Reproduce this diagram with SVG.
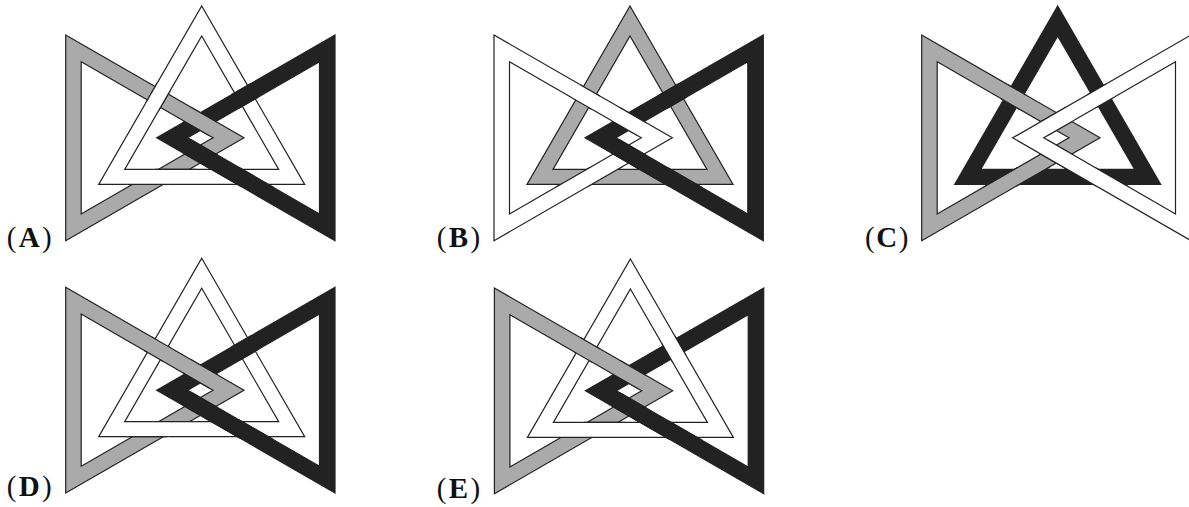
<svg xmlns="http://www.w3.org/2000/svg" xmlns:xlink="http://www.w3.org/1999/xlink" width="1189" height="507" viewBox="0 0 1189 507">
<style>
.b{stroke:#222;stroke-width:1.2;stroke-linejoin:miter;fill-rule:evenodd}
.w{fill:#ffffff}.g{fill:#aaaaaa}.k{fill:#222222}
.lbl{font-family:"Liberation Serif","DejaVu Serif",serif;font-size:29px;fill:#111}
</style>
<defs>
<path id="L" d="M65.7,35 L244,137.85 L65.7,240.7 Z M81.2,61.75 L213,137.85 L81.2,213.95 Z"/>
<path id="R" d="M335,35 L156.7,137.85 L335,240.7 Z M319.5,61.75 L187.7,137.85 L319.5,213.95 Z"/>
<path id="U" d="M201.7,6 L304.7,184.4 L98.7,184.4 Z M201.7,36 L278.7,169.4 L124.7,169.4 Z"/>
<clipPath id="x1"><circle cx="157.8" cy="97" r="14"/></clipPath>
<clipPath id="x2"><circle cx="200.35" cy="121.6" r="17.5"/></clipPath>
<clipPath id="x3"><circle cx="200.35" cy="154.1" r="17.5"/></clipPath>
<clipPath id="x4"><circle cx="245" cy="95.9" r="14"/></clipPath>
<clipPath id="x5"><polygon points="123.1,186.9 163.9,186.9 198.5,166.9 157.7,166.9"/></clipPath>
<clipPath id="x6"><polygon points="277.6,186.9 236.8,186.9 202.2,166.9 243,166.9"/></clipPath>
</defs>

<g id="panel-A">
  <g id="A-bands">
    <use href="#L" class="b g"/><use href="#U" class="b w"/><use href="#R" class="b k"/>
  </g>
  <g id="A-crossings">
    <use href="#U" class="b w" clip-path="url(#x1)"/>
    <use href="#L" class="b g" clip-path="url(#x2)"/>
    <use href="#R" class="b k" clip-path="url(#x3)"/>
    <use href="#R" class="b k" clip-path="url(#x4)"/>
    <use href="#U" class="b w" clip-path="url(#x5)"/>
    <use href="#R" class="b k" clip-path="url(#x6)"/>
  </g>
</g>

<g id="panel-B" transform="translate(428.3,0)">
  <g id="B-bands">
    <use href="#L" class="b w"/><use href="#U" class="b g"/><use href="#R" class="b k"/>
  </g>
  <g id="B-crossings">
    <use href="#L" class="b w" clip-path="url(#x1)"/>
    <use href="#L" class="b w" clip-path="url(#x2)"/>
    <use href="#R" class="b k" clip-path="url(#x3)"/>
    <use href="#R" class="b k" clip-path="url(#x4)"/>
    <use href="#L" class="b w" clip-path="url(#x5)"/>
    <use href="#R" class="b k" clip-path="url(#x6)"/>
  </g>
</g>

<g id="panel-C" transform="translate(856,0)">
  <g id="C-bands">
    <use href="#L" class="b g"/><use href="#U" class="b k"/><use href="#R" class="b w"/>
  </g>
  <g id="C-crossings">
    <use href="#L" class="b g" clip-path="url(#x1)"/>
    <use href="#R" class="b w" clip-path="url(#x2)"/>
    <use href="#R" class="b w" clip-path="url(#x3)"/>
    <use href="#R" class="b w" clip-path="url(#x4)"/>
    <use href="#L" class="b g" clip-path="url(#x5)"/>
    <use href="#R" class="b w" clip-path="url(#x6)"/>
  </g>
</g>

<g id="panel-D" transform="translate(0,252.3)">
  <g id="D-bands">
    <use href="#L" class="b g"/><use href="#U" class="b w"/><use href="#R" class="b k"/>
  </g>
  <g id="D-crossings">
    <use href="#L" class="b g" clip-path="url(#x1)"/>
    <use href="#L" class="b g" clip-path="url(#x2)"/>
    <use href="#R" class="b k" clip-path="url(#x3)"/>
    <use href="#R" class="b k" clip-path="url(#x4)"/>
    <use href="#U" class="b w" clip-path="url(#x5)"/>
    <use href="#R" class="b k" clip-path="url(#x6)"/>
  </g>
</g>

<g id="panel-E" transform="translate(428.7,253)">
  <g id="E-bands">
    <use href="#L" class="b g"/><use href="#U" class="b w"/><use href="#R" class="b k"/>
  </g>
  <g id="E-crossings">
    <use href="#L" class="b g" clip-path="url(#x1)"/>
    <use href="#L" class="b g" clip-path="url(#x2)"/>
    <use href="#R" class="b k" clip-path="url(#x3)"/>
    <use href="#U" class="b w" clip-path="url(#x4)"/>
    <use href="#U" class="b w" clip-path="url(#x5)"/>
    <use href="#R" class="b k" clip-path="url(#x6)"/>
  </g>
</g>

<g id="labels">
  <text id="label-A" class="lbl" x="6.7" y="246.7" textLength="45" lengthAdjust="spacing">(<tspan font-weight="bold">A</tspan>)</text>
  <text id="label-B" class="lbl" x="436.7" y="246.7" textLength="43.5" lengthAdjust="spacing">(<tspan font-weight="bold">B</tspan>)</text>
  <text id="label-C" class="lbl" x="865" y="246.7" textLength="43.5" lengthAdjust="spacing">(<tspan font-weight="bold">C</tspan>)</text>
  <text id="label-D" class="lbl" x="6.7" y="496" textLength="45" lengthAdjust="spacing">(<tspan font-weight="bold">D</tspan>)</text>
  <text id="label-E" class="lbl" x="436.7" y="498" textLength="43.5" lengthAdjust="spacing">(<tspan font-weight="bold">E</tspan>)</text>
</g>
</svg>
